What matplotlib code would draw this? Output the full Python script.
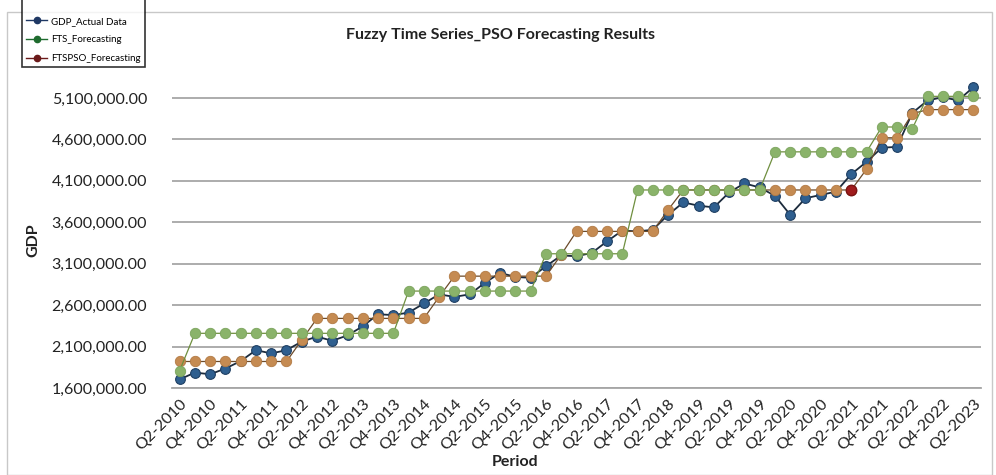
import numpy as np
import matplotlib.pyplot as plt
from matplotlib.lines import Line2D
from matplotlib.patches import Rectangle
from matplotlib.ticker import FuncFormatter

plt.rcParams['font.family'] = ['Lato', 'DejaVu Sans']

# quarterly periods Q2-2010 .. Q2-2023 (values in thousands)
tick_labels = ['Q2-2010', 'Q4-2010', 'Q2-2011', 'Q4-2011', 'Q2-2012', 'Q4-2012',
               'Q2-2013', 'Q4-2013', 'Q2-2014', 'Q4-2014', 'Q2-2015', 'Q4-2015',
               'Q2-2016', 'Q4-2016', 'Q2-2017', 'Q4-2017', 'Q2-2018', 'Q4-2019',
               'Q2-2019', 'Q4-2019', 'Q2-2020', 'Q4-2020', 'Q2-2021', 'Q4-2021',
               'Q2-2022', 'Q4-2022', 'Q2-2023']

gdp_actual = [1704, 1786, 1766, 1835, 1925, 2057, 2017, 2057, 2160, 2220,
              2170, 2235, 2345, 2490, 2480, 2510, 2620, 2730, 2700, 2730,
              2870, 2990, 2940, 2930, 3070, 3200, 3190, 3230, 3370, 3500,
              3490, 3510, 3690, 3840, 3800, 3780, 3960, 4070, 4020, 3920,
              3690, 3890, 3930, 3970, 4180, 4330, 4500, 4510, 4920, 5070,
              5110, 5070, 5230]

fts_forecast = [1810, 2260, 2260, 2260, 2260, 2260, 2260, 2260, 2260, 2260,
                2260, 2260, 2260, 2260, 2260, 2770, 2770, 2770, 2770, 2770,
                2770, 2770, 2770, 2770, 3220, 3220, 3220, 3220, 3220, 3220,
                3990, 3990, 3990, 3990, 3990, 3990, 3990, 3990, 3990, 4450,
                4450, 4450, 4450, 4450, 4450, 4450, 4750, 4750, 4730, 5120,
                5120, 5120, 5120]

ftspso_forecast = [1920, 1920, 1920, 1920, 1920, 1920, 1920, 1920, 2180, 2440,
                   2440, 2440, 2440, 2440, 2440, 2440, 2440, 2700, 2950, 2950,
                   2950, 2950, 2950, 2950, 2950, 3210, 3490, 3490, 3490, 3490,
                   3490, 3490, 3750, 3990, 3990, 3990, 3990, 3990, 3990, 3990,
                   3990, 3990, 3990, 3990, 3990, 4240, 4620, 4620, 4910, 4960,
                   4960, 4960, 4960]

x = np.arange(len(gdp_actual))
gdp = np.array(gdp_actual) * 1000
fts = np.array(fts_forecast) * 1000
pso = np.array(ftspso_forecast) * 1000

W, H = 996, 475
fig = plt.figure(figsize=(W / 100, H / 100), dpi=100)
ax = fig.add_axes([172 / W, 1 - 388 / H, (981 - 172) / W, (388 - 69) / H])

ax.plot(x, gdp, color='#1c2b3c', lw=1.3, marker='o', ms=7,
        mfc='#2f5f8f', mec='#1f3f63', mew=0.8, zorder=3)
ax.plot(x, pso, color='#6b4a2a', lw=0.9, marker='o', ms=7.5,
        mfc='#c58b52', mec='#b27a44', mew=0.6, zorder=4)
ax.plot(x, fts, color='#6f8f3f', lw=0.9, marker='o', ms=7.5,
        mfc='#8ab36a', mec='#7ba35c', mew=0.6, zorder=5)
# one FTSPSO marker appears in its darker legend colour
ax.plot(x[44], pso[44], 'o', ms=7.5, mfc='#a01c1c', mec='#7a1414', zorder=6)

ax.set_xlim(-0.5, 52.5)
ax.set_ylim(1600000, 5450000)
ax.set_yticks(np.arange(1600000, 5100001, 500000))
ax.yaxis.set_major_formatter(FuncFormatter(lambda v, p: '{:,.2f}'.format(v)))
ax.set_xticks(x[::2])
ax.set_xticklabels(tick_labels, rotation=45, ha='right', rotation_mode='anchor')
ax.grid(axis='y', color='#a6a6a6', lw=1.3)
ax.set_axisbelow(True)
for s in ['top', 'right', 'left']:
    ax.spines[s].set_visible(False)
ax.spines['bottom'].set_color('#a6a6a6')
ax.spines['bottom'].set_linewidth(1.3)
ax.tick_params(axis='both', length=0, labelsize=11.5, colors='#222222')
ax.tick_params(axis='x', pad=6)
ax.tick_params(axis='y', pad=18)

fig.text(500 / W, 1 - 35 / H, 'Fuzzy Time Series_PSO Forecasting Results',
         ha='center', va='center', fontsize=11.5, fontweight='bold', color='#222222')
fig.text(33 / W, 1 - 240 / H, 'GDP', rotation=90, ha='center', va='center',
         fontsize=11.5, fontweight='bold', color='#222222')
fig.text(515 / W, 1 - 462 / H, 'Period', ha='center', va='center',
         fontsize=11.5, fontweight='bold', color='#222222')

# outer chart border
fig.add_artist(Rectangle((7 / W, 0), (992 - 7) / W, 1 - 12 / H, transform=fig.transFigure,
                         fill=False, ec='#c8c8c8', lw=1))

handles = [
    Line2D([], [], color='#1f3864', lw=1, marker='o', ms=4.5, mfc='#1f3864', mec='#1f3864'),
    Line2D([], [], color='#1e6b2e', lw=1, marker='o', ms=4.5, mfc='#1e6b2e', mec='#1e6b2e'),
    Line2D([], [], color='#6b1a1a', lw=1, marker='o', ms=4.5, mfc='#6b1a1a', mec='#6b1a1a'),
]
leg = fig.legend(handles, ['GDP_Actual Data', 'FTS_Forecasting', 'FTSPSO_Forecasting'],
                 loc='lower left', bbox_to_anchor=(22 / W, 1 - 67 / H), fontsize=7,
                 title=' ', title_fontsize=14, frameon=True, fancybox=False,
                 edgecolor='black', labelspacing=1.0, handlelength=2.2,
                 handletextpad=0.4, borderpad=0.4, borderaxespad=0)
leg.get_frame().set_linewidth(1.2)

fig.savefig('out.png', dpi=100)
